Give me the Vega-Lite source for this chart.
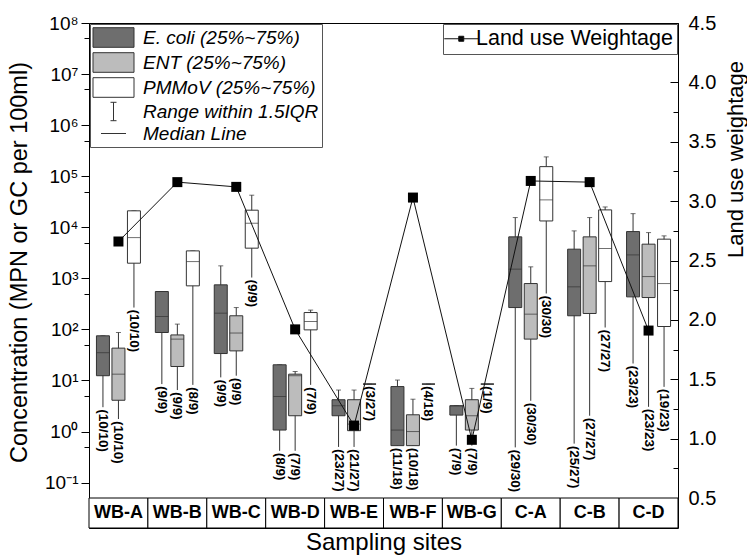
{
  "$schema": "https://vega.github.io/schema/vega-lite/v6.json",
  "autosize": {"type": "pad"},
  "padding": {"left": 6, "top": 12, "right": 0, "bottom": 0},
  "background": "white",
  "bounds": "flush",
  "config": {
    "font": "Liberation Sans",
    "view": {"stroke": "black", "strokeWidth": 1},
    "axis": {"labelColor": "black", "titleColor": "black", "domainColor": "black", "tickColor": "black", "grid": false, "titleFontWeight": "normal", "labelFont": "Liberation Sans", "titleFont": "Liberation Sans"}
  },
  "datasets": {
    "boxes": [
      {"site": "WB-A", "species": "E. coli", "min": 3.0, "q1": 12.4, "median": 35, "q3": 75, "max": 75, "n": "(10/10)"},
      {"site": "WB-A", "species": "ENT", "min": 1.76, "q1": 4.1, "median": 13.3, "q3": 43, "max": 87, "n": "(10/10)"},
      {"site": "WB-A", "species": "PMMoV", "min": 268, "q1": 1980, "median": 6280, "q3": 21000, "max": 21000, "n": "(10/10)"},
      {"site": "WB-B", "species": "E. coli", "min": 8.5, "q1": 87, "median": 179, "q3": 552, "max": 552, "n": "(9/9)"},
      {"site": "WB-B", "species": "ENT", "min": 6.5, "q1": 18.8, "median": 64.6, "q3": 78, "max": 127, "n": "(9/9)"},
      {"site": "WB-B", "species": "PMMoV", "min": 8.2, "q1": 713, "median": 2130, "q3": 3450, "max": 3450, "n": "(8/9)"},
      {"site": "WB-C", "species": "E. coli", "min": 11.5, "q1": 33.7, "median": 208, "q3": 746, "max": 1757, "n": "(9/9)"},
      {"site": "WB-C", "species": "ENT", "min": 12.4, "q1": 38, "median": 85, "q3": 185, "max": 268, "n": "(9/9)"},
      {"site": "WB-C", "species": "PMMoV", "min": 1037, "q1": 3900, "median": 12000, "q3": 21600, "max": 42500, "n": "(9/9)"},
      {"site": "WB-D", "species": "E. coli", "min": 0.42, "q1": 1.07, "median": 4.86, "q3": 20.3, "max": 20.3, "n": "(8/9)"},
      {"site": "WB-D", "species": "ENT", "min": 0.42, "q1": 2.04, "median": 12.4, "q3": 13.3, "max": 15, "n": "(7/9)"},
      {"site": "WB-D", "species": "PMMoV", "min": 8.2, "q1": 98, "median": 143, "q3": 214, "max": 239, "n": "(7/9)"},
      {"site": "WB-E", "species": "E. coli", "min": 0.5, "q1": 2.04, "median": 3.2, "q3": 4.2, "max": 6.5, "n": "(23/27)"},
      {"site": "WB-E", "species": "ENT", "min": 0.5, "q1": 1.04, "median": 1.4, "q3": 4.2, "max": 6.5, "n": "(21/27)"},
      {"site": "WB-E", "species": "PMMoV", "min": 8.5, "q1": 8.5, "median": 8.5, "q3": 8.5, "max": 8.5, "n": "(3/27)"},
      {"site": "WB-F", "species": "E. coli", "min": 0.53, "q1": 0.53, "median": 1.07, "q3": 7.6, "max": 10.2, "n": "(11/18)"},
      {"site": "WB-F", "species": "ENT", "min": 0.53, "q1": 0.53, "median": 1.0, "q3": 2.13, "max": 4.3, "n": "(10/18)"},
      {"site": "WB-F", "species": "PMMoV", "min": 8.5, "q1": 8.5, "median": 8.5, "q3": 8.5, "max": 8.5, "n": "(4/18)"},
      {"site": "WB-G", "species": "E. coli", "min": 0.53, "q1": 2.1, "median": 3.2, "q3": 3.2, "max": 3.2, "n": "(7/9)"},
      {"site": "WB-G", "species": "ENT", "min": 0.53, "q1": 1.07, "median": 2.04, "q3": 4.2, "max": 7.0, "n": "(7/9)"},
      {"site": "WB-G", "species": "PMMoV", "min": 8.5, "q1": 8.5, "median": 8.5, "q3": 8.5, "max": 8.5, "n": "(1/9)"},
      {"site": "C-A", "species": "E. coli", "min": 0.49, "q1": 268, "median": 1514, "q3": 6490, "max": 15500, "n": "(29/30)"},
      {"site": "C-A", "species": "ENT", "min": 4.0, "q1": 64.6, "median": 199, "q3": 791, "max": 1680, "n": "(30/30)"},
      {"site": "C-A", "species": "PMMoV", "min": 505, "q1": 13300, "median": 34400, "q3": 154000, "max": 239000, "n": "(30/30)"},
      {"site": "C-B", "species": "E. coli", "min": 0.58, "q1": 185, "median": 682, "q3": 3725, "max": 8500, "n": "(25/27)"},
      {"site": "C-B", "species": "ENT", "min": 2.04, "q1": 205, "median": 1757, "q3": 6490, "max": 15500, "n": "(27/27)"},
      {"site": "C-B", "species": "PMMoV", "min": 109, "q1": 865, "median": 3830, "q3": 21900, "max": 25000, "n": "(27/27)"},
      {"site": "C-D", "species": "E. coli", "min": 21.5, "q1": 434, "median": 2880, "q3": 8240, "max": 18500, "n": "(23/23)"},
      {"site": "C-D", "species": "ENT", "min": 3.05, "q1": 421, "median": 1084, "q3": 4670, "max": 7870, "n": "(23/23)"},
      {"site": "C-D", "species": "PMMoV", "min": 7.5, "q1": 114, "median": 791, "q3": 5850, "max": 6790, "n": "(19/23)"}
    ],
    "landuse": [
      {"site": "WB-A", "weight": 2.66},
      {"site": "WB-B", "weight": 3.16},
      {"site": "WB-C", "weight": 3.12},
      {"site": "WB-D", "weight": 1.92},
      {"site": "WB-E", "weight": 1.11},
      {"site": "WB-F", "weight": 3.03},
      {"site": "WB-G", "weight": 0.99},
      {"site": "C-A", "weight": 3.17},
      {"site": "C-B", "weight": 3.16},
      {"site": "C-D", "weight": 1.91}
    ],
    "sites": [
      {"site": "WB-A"}, {"site": "WB-B"}, {"site": "WB-C"}, {"site": "WB-D"}, {"site": "WB-E"},
      {"site": "WB-F"}, {"site": "WB-G"}, {"site": "C-A"}, {"site": "C-B"}, {"site": "C-D"}
    ]
  },
  "spacing": 0,
  "vconcat": [
    {
      "width": 589,
      "height": 475,
      "layer": [
        {
          "data": {"name": "boxes"},
          "encoding": {
            "x": {"field": "site", "type": "nominal", "scale": {"domain": ["WB-A", "WB-B", "WB-C", "WB-D", "WB-E", "WB-F", "WB-G", "C-A", "C-B", "C-D"], "paddingInner": 0, "paddingOuter": 0}, "axis": null},
            "xOffset": {"field": "species", "type": "nominal", "scale": {"domain": ["E. coli", "ENT", "PMMoV"], "paddingInner": 0.16, "paddingOuter": 0.48}}
          },
          "layer": [
            {
              "mark": {"type": "rule", "color": "#333333", "strokeWidth": 1},
              "encoding": {
                "y": {"field": "min", "type": "quantitative", "scale": {"type": "log", "domain": [0.05, 100000000], "nice": false},
                  "axis": {
                    "orient": "left",
                    "values": [0.1, 0.5, 1, 5, 10, 50, 100, 500, 1000, 5000, 10000, 50000, 100000, 500000, 1000000, 5000000, 10000000, 50000000, 100000000],
                    "labelExpr": "abs(log(datum.value)/LN10 - round(log(datum.value)/LN10)) < 0.01 ? '10' + ['⁻¹','⁰','¹','²','³','⁴','⁵','⁶','⁷','⁸'][round(log(datum.value)/LN10)+1] : ''",
                    "tickSize": {"condition": {"test": "abs(log(datum.value)/LN10 - round(log(datum.value)/LN10)) < 0.01", "value": 8}, "value": 5},
                    "labelFontSize": 19,
                    "labelPadding": 3,
                    "title": "Concentration (MPN or GC per 100ml)",
                    "titleFontSize": 23.5,
                    "titleX": -70,
                    "titleY": 239,
                    "titleBaseline": "middle",
                    "titleAlign": "center"
                  }
                },
                "y2": {"field": "max"}
              }
            },
            {
              "mark": {"type": "tick", "color": "#333333", "size": 5, "thickness": 1, "orient": "horizontal"},
              "encoding": {"y": {"field": "max", "type": "quantitative"}}
            },
            {
              "mark": {"type": "bar", "stroke": "#333333", "strokeWidth": 1, "width": 13},
              "encoding": {
                "y": {"field": "q1", "type": "quantitative"},
                "y2": {"field": "q3"},
                "fill": {
                  "field": "species", "type": "nominal",
                  "scale": {"domain": ["E. coli", "ENT", "PMMoV", "Range", "Median"], "range": ["#6e6e6e", "#bcbcbc", "#ffffff", "transparent", "transparent"]},
                  "legend": {
                    "orient": "top-left",
                    "offset": 1,
                    "title": null,
                    "padding": 3,
                    "rowPadding": 0,
                    "symbolOffset": 10,
                    "labelOffset": 19,
                    "labelFontSize": 19,
                    "labelFontStyle": "italic",
                    "labelColor": "black",
                    "labelLimit": 400,
                    "symbolSize": 400,
                    "symbolStrokeColor": "#333333",
                    "symbolStrokeWidth": 1,
                    "strokeColor": "#555555",
                    "fillColor": "white",
                    "labelExpr": "datum.value == 'E. coli' ? 'E. coli (25%~75%)' : datum.value == 'ENT' ? 'ENT (25%~75%)' : datum.value == 'PMMoV' ? 'PMMoV (25%~75%)' : datum.value == 'Range' ? 'Range within 1.5IQR' : 'Median Line'",
                    "encode": {
                      "symbols": {
                        "update": {
                          "shape": {"signal": "datum.value == 'Range' ? 'M-0.3,-0.92H0.3M0,-0.92V0.92M-0.3,0.92H0.3' : datum.value == 'Median' ? 'M-1.25,0H1.25' : 'M-2.05,-0.98H2.05V0.98H-2.05Z'"},
                          "stroke": {"value": "#333333"},
                          "strokeWidth": {"value": 1}
                        }
                      }
                    }
                  }
                }
              }
            },
            {
              "mark": {"type": "tick", "color": "#333333", "size": 13, "thickness": 1, "orient": "horizontal"},
              "encoding": {"y": {"field": "median", "type": "quantitative"}}
            },
            {
              "mark": {"type": "text", "angle": 90, "align": "left", "baseline": "middle", "dx": 2, "fontSize": 13.5, "fontWeight": "bold", "color": "black"},
              "encoding": {
                "y": {"field": "min", "type": "quantitative"},
                "text": {"field": "n"}
              }
            }
          ]
        },
        {
          "data": {"name": "landuse"},
          "encoding": {
            "x": {"field": "site", "type": "nominal", "scale": {"domain": ["WB-A", "WB-B", "WB-C", "WB-D", "WB-E", "WB-F", "WB-G", "C-A", "C-B", "C-D"], "paddingInner": 0, "paddingOuter": 0}, "axis": null},
            "y": {"field": "weight", "type": "quantitative", "scale": {"domain": [0.5, 4.5], "nice": false},
              "axis": {
                "orient": "right",
                "values": [0.5, 0.75, 1, 1.25, 1.5, 1.75, 2, 2.25, 2.5, 2.75, 3, 3.25, 3.5, 3.75, 4, 4.25, 4.5],
                "labelExpr": "round(datum.value*2) == datum.value*2 ? format(datum.value, '.1f') : ''",
                "tickSize": {"condition": {"test": "round(datum.value*2) == datum.value*2", "value": -8}, "value": -5},
                "labelFontSize": 20,
                "labelPadding": 18,
                "title": "Land use weightage",
                "titleFontSize": 22,
                "titleAngle": 270,
                "titleX": 57,
                "titleY": 136,
                "titleBaseline": "middle",
                "titleAlign": "center"
              }
            },
            "order": {"value": null}
          },
          "layer": [
            {
              "mark": {"type": "line", "strokeWidth": 1},
              "encoding": {
                "stroke": {
                  "datum": "Land use Weightage",
                  "scale": {"range": ["#111111"]},
                  "legend": {
                    "orient": "top-right",
                    "offset": 1,
                    "title": null,
                    "padding": 4,
                    "symbolOffset": 3.5,
                    "labelOffset": 4,
                    "labelFontSize": 21.5,
                    "labelColor": "black",
                    "labelLimit": 400,
                    "symbolType": "M-3.4,0H3.4M-0.5,-0.5H0.5V0.5H-0.5Z",
                    "symbolSize": 100,
                    "strokeColor": "#555555",
                    "fillColor": "white",
                    "encode": {
                      "symbols": {
                        "update": {
                          "fill": {"value": "black"},
                          "stroke": {"value": "black"},
                          "strokeWidth": {"value": 1}
                        }
                      }
                    }
                  }
                }
              }
            },
            {
              "mark": {"type": "square", "size": 100, "filled": true, "color": "black", "opacity": 1}
            }
          ]
        }
      ],
      "resolve": {"scale": {"y": "independent"}}
    },
    {
      "width": 589,
      "height": 30,
      "data": {"name": "sites"},
      "encoding": {
        "x": {"field": "site", "type": "nominal", "scale": {"domain": ["WB-A", "WB-B", "WB-C", "WB-D", "WB-E", "WB-F", "WB-G", "C-A", "C-B", "C-D"], "paddingInner": 0, "paddingOuter": 0},
          "axis": {"title": "Sampling sites", "labels": false, "ticks": false, "domain": false, "titleFontSize": 24, "titlePadding": 2}}
      },
      "layer": [
        {"mark": {"type": "rect", "fill": "white", "stroke": "black", "strokeWidth": 1}},
        {"mark": {"type": "text", "fontSize": 18, "fontWeight": "bold", "color": "black"}, "encoding": {"text": {"field": "site"}}}
      ]
    }
  ],
  "resolve": {"legend": {"fill": "independent", "stroke": "independent"}}
}
